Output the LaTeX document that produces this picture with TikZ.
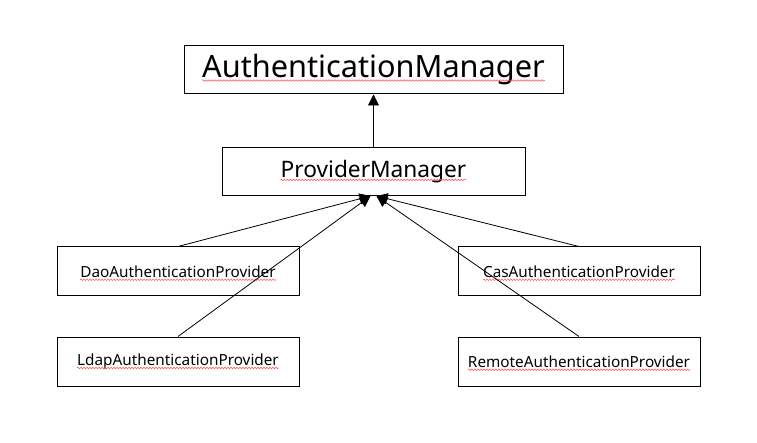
\documentclass[tikz,border=0pt]{standalone}
\usepackage{fontspec}
\setmainfont{Noto Sans}
\usetikzlibrary{arrows.meta,decorations.pathmorphing}

\begin{document}
\begin{tikzpicture}[x=1pt, y=-1pt,
    every node/.style={align=center, inner sep=0pt},
    box/.style={draw, line width=1pt, minimum height=48pt},
    big/.style={box, minimum width=379pt},
    mid/.style={box, minimum width=303pt},
    prov/.style={box, minimum width=242pt, minimum height=49pt},
    bigtext/.style={font=\fontsize{30.7}{33}\selectfont},
    midtext/.style={font=\fontsize{22.7}{25}\selectfont},
    provtext/.style={font=\fontsize{15.3}{17}\selectfont},
    spell/.style={draw=red!70, line width=0.5pt, decorate,
        decoration={snake, amplitude=0.8pt, segment length=3pt}},
    inherit/.style={draw, line width=0.8pt, -{Triangle[length=11pt, width=11pt]}}
]
\useasboundingbox (0,0) rectangle (757,443);
% boxes
\node[big] (authmgr) at (373.5,70) {};
\node[mid] (provmgr) at (373.5,171.5) {};
\node[prov] (dao) at (178,271.5) {};
\node[prov] (ldap) at (178,361.5) {};
\node[prov] (cas) at (579,271.5) {};
\node[prov] (remote) at (579,361.5) {};
% texts with spell-check marks
\node[bigtext] (authmgr-t) at (authmgr) {AuthenticationManager};
\node[midtext] (provmgr-t) at (provmgr) {ProviderManager};
\node[provtext] (dao-t) at (dao) {DaoAuthenticationProvider};
\node[provtext] (ldap-t) at (ldap) {LdapAuthenticationProvider};
\node[provtext] (cas-t) at (cas) {CasAuthenticationProvider};
\node[provtext] (remote-t) at (remote) {RemoteAuthenticationProvider};
\foreach \n in {authmgr-t,provmgr-t,dao-t,ldap-t,cas-t,remote-t}
    \draw[spell] ([yshift=-2.5pt]\n.base west) -- ([yshift=-2.5pt]\n.base east);
% tips under the provider manager
\coordinate (tipL) at ([xshift=-3pt]provmgr.south);
\coordinate (tipR) at ([xshift=3pt]provmgr.south);
\draw[inherit] (provmgr) -- (authmgr);
\draw[inherit] (dao.north) -- (tipL);
\draw[inherit] (ldap.north) -- (tipL);
\draw[inherit] (cas.north) -- (tipR);
\draw[inherit] (remote.north) -- (tipR);
\end{tikzpicture}
\end{document}
